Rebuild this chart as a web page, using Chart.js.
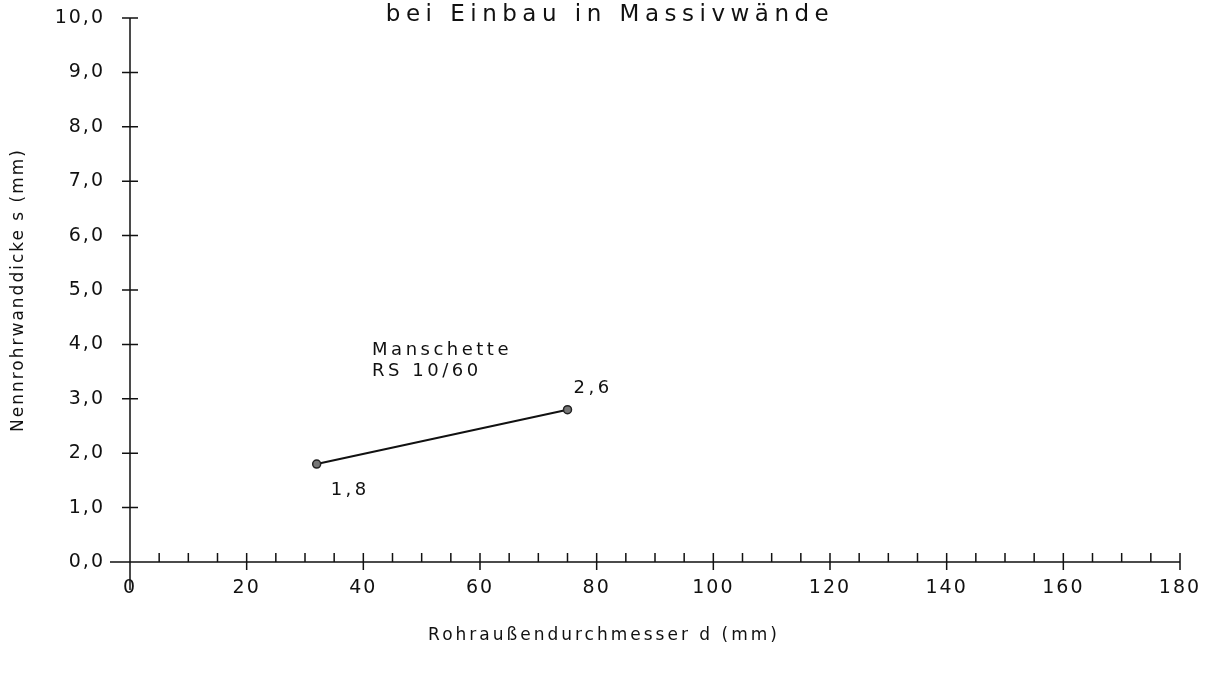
<!DOCTYPE html>
<html>
<head>
<meta charset="utf-8">
<script src="https://cdn.jsdelivr.net/npm/chart.js@4"></script>
<style>
  body { margin: 0; background: #fff; }
</style>
</head>
<body>
<canvas id="chart" width="1211" height="677"></canvas>
<script>
// values
var diameters = [32, 75];
var wallThickness = [1.8, 2.8];
var pointLabels = ['1,8', '2,6'];
var seriesName = ['Manschette', 'RS 10/60'];
var titleText = 'bei Einbau in Massivwände';
var xTitle = 'Rohraußendurchmesser d (mm)';
var yTitle = 'Nennrohrwanddicke s (mm)';

var FONT = '"DejaVu Sans", sans-serif';
var ink = '#111';

var axesPlugin = {
    id: 'axes',
    beforeDraw: function (chart) {
        var ctx = chart.ctx;
        ctx.fillStyle = '#fff';
        ctx.fillRect(0, 0, chart.width, chart.height);
        ctx.letterSpacing = '2px';
    },
    afterDatasetsDraw: function (chart) {
        var ctx = chart.ctx;
        var x = chart.scales.x, y = chart.scales.y;
        var x0 = x.getPixelForValue(0), y0 = y.getPixelForValue(0);
        ctx.save();
        ctx.strokeStyle = ink;
        ctx.lineWidth = 1.5;
        ctx.beginPath();
        // axis lines
        ctx.moveTo(x0 - 20, y0);
        ctx.lineTo(x.getPixelForValue(180), y0);
        ctx.moveTo(x0, y.getPixelForValue(10));
        ctx.lineTo(x0, y0 + 28);
        // y ticks, crossing the axis
        for (var v = 1; v <= 10; v++) {
            var py = y.getPixelForValue(v);
            ctx.moveTo(x0 - 8, py);
            ctx.lineTo(x0 + 8, py);
        }
        // x ticks: major every 20 crossing, minor every 5 upward
        for (var d = 5; d <= 180; d += 5) {
            var px = x.getPixelForValue(d);
            ctx.moveTo(px, y0 - 9);
            ctx.lineTo(px, d % 20 === 0 || d === 180 ? y0 + 8 : y0);
        }
        ctx.stroke();

        ctx.fillStyle = ink;
        ctx.textBaseline = 'middle';
        ctx.textAlign = 'left';
        ctx.font = '18px ' + FONT;
        ctx.letterSpacing = '3.5px';
        // point labels
        var meta = chart.getDatasetMeta(0);
        var p0 = meta.data[0], p1 = meta.data[1];
        ctx.fillText(pointLabels[0], p0.x + 14, p0.y + 26);
        ctx.fillText(pointLabels[1], p1.x + 6, p1.y - 21);
        // series annotation
        var ax = x.getPixelForValue(41.5), ay = y.getPixelForValue(3.9);
        ctx.fillText(seriesName[0], ax, ay);
        ctx.fillText(seriesName[1], ax, ay + 21);

        // titles
        ctx.textAlign = 'center';
        ctx.font = '23px ' + FONT;
        ctx.letterSpacing = '5.5px';
        ctx.fillText(titleText, 610, 15);
        ctx.font = '17px ' + FONT;
        ctx.letterSpacing = '3px';
        ctx.fillText(xTitle, 604, 636);
        ctx.restore();
    }
};

function noPad(s) {
    s.paddingTop = 0;
    s.paddingBottom = 0;
    s.paddingLeft = 0;
    s.paddingRight = 0;
}

new Chart(document.getElementById('chart'), {
    type: 'scatter',
    data: {
        datasets: [{
            data: diameters.map(function (d, i) { return { x: d, y: wallThickness[i] }; }),
            showLine: true,
            borderColor: ink,
            borderWidth: 2,
            pointRadius: 4,
            pointBackgroundColor: '#777',
            pointBorderColor: '#222',
            pointBorderWidth: 1.5
        }]
    },
    options: {
        responsive: false,
        animation: false,
        layout: { padding: { top: 18, right: 31, left: 0, bottom: 0 } },
        plugins: { legend: { display: false }, tooltip: { enabled: false } },
        scales: {
            x: {
                type: 'linear',
                min: 0,
                max: 180,
                grid: { display: false, drawTicks: false },
                border: { display: false },
                ticks: {
                    stepSize: 20,
                    padding: 15,
                    maxRotation: 0,
                    color: ink,
                    font: { family: FONT, size: 19 }
                },
                afterFit: function (s) { s.height = 677 - 562; noPad(s); }
            },
            y: {
                min: 0,
                max: 10,
                grid: { display: false, drawTicks: false },
                border: { display: false },
                ticks: {
                    stepSize: 1,
                    padding: 25,
                    color: ink,
                    font: { family: FONT, size: 19 },
                    callback: function (v) { return v.toFixed(1).replace('.', ','); }
                },
                title: {
                    display: true,
                    text: yTitle,
                    color: ink,
                    font: { family: FONT, size: 17 },
                    padding: { top: 8, bottom: 0 }
                },
                afterFit: function (s) { s.width = 130; noPad(s); }
            }
        }
    },
    plugins: [axesPlugin]
});
</script>
</body>
</html>
